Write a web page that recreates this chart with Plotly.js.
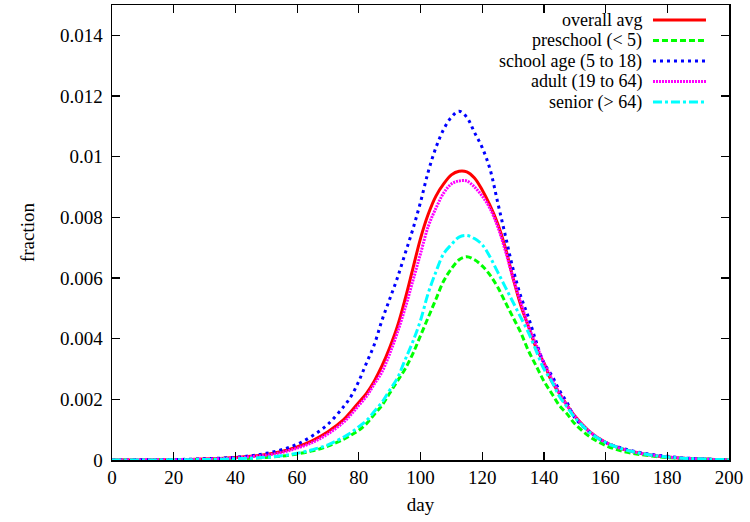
<!DOCTYPE html>
<html>
<head>
<meta charset="utf-8">
<script src="https://cdn.plot.ly/plotly-3.0.1.min.js"></script>
<style>html,body{margin:0;padding:0;background:#fff;}#chart{width:750px;height:522px;}</style>
</head>
<body>
<div id="chart"></div>
<script>
const days = [0,5,10,15,20,25,30,35,40,45,50,55,60,65,70,
  75,77.5,80,82.5,85,87.5,90,92.5,95,97.5,100,102.5,105,107.5,110,112.5,115,117.5,120,122.5,125,127.5,130,132.5,135,137.5,140,142.5,145,147.5,150,
  155,160,165,170,175,180,185,190,195,200];

const overallAvg = [0.000002,0.000003,0.000004,0.000007,0.000011,0.000018,0.00003,0.00005,0.00008,0.00012,0.00018,0.00028,0.00043,0.00064,0.00093,
  0.00132,0.0016,0.0019,0.0022,0.0026,0.0031,0.0037,0.0044,0.0053,0.0063,0.0073,0.0081,0.0087,0.0091,0.0094,0.00952,0.0095,0.0093,0.0089,0.0084,0.0078,0.0070,0.0060,0.0051,0.0044,0.0037,0.0032,0.0026,0.0022,0.0018,0.00145,
  0.00092,0.00058,0.00038,0.00025,0.00016,0.0001,0.00006,0.00004,0.00002,0.00001];

const preschool = [0.000001,0.000002,0.000002,0.000004,0.000006,0.000009,0.000014,0.000022,0.000035,0.000055,0.000085,0.00013,0.0002,0.0003,0.00046,
  0.00068,0.00082,0.00098,0.0012,0.0015,0.0018,0.0022,0.0026,0.0030,0.0035,0.0041,0.0047,0.0053,0.0059,0.0063,0.0066,0.0067,0.0066,0.0064,0.0061,0.0057,0.0052,0.0047,0.0042,0.0036,0.0031,0.0026,0.0022,0.0018,0.00152,0.0012,
  0.00076,0.00048,0.0003,0.0002,0.00013,0.00008,0.00005,0.00003,0.00002,0.00001];

const schoolAge = [0.000003,0.000004,0.000006,0.00001,0.000015,0.000024,0.00004,0.00006,0.00009,0.00014,0.00022,0.00034,0.00052,0.0008,0.00118,
  0.00175,0.0021,0.0026,0.0032,0.0038,0.0046,0.0053,0.0060,0.0068,0.0076,0.0085,0.0095,0.0103,0.0109,0.0113,0.0115,0.0113,0.0108,0.0103,0.0096,0.0085,0.0074,0.0063,0.0054,0.0047,0.0039,0.0032,0.0028,0.0023,0.0019,0.0014,
  0.0009,0.00058,0.0004,0.00027,0.00018,0.00012,0.00007,0.00004,0.00002,0.00001];

const adult = [0.000002,0.000003,0.000004,0.000006,0.00001,0.000016,0.000027,0.000045,0.00007,0.00011,0.00016,0.00025,0.00039,0.00058,0.00086,
  0.00124,0.0015,0.0018,0.0021,0.0025,0.0029,0.0035,0.0042,0.0050,0.0059,0.0068,0.0077,0.0083,0.0088,0.0091,0.0092,0.0092,0.0090,0.0087,0.0083,0.0077,0.0069,0.0060,0.0052,0.0044,0.0038,0.0032,0.0027,0.0022,0.0018,0.00145,
  0.00092,0.00058,0.00038,0.00025,0.00016,0.0001,0.00006,0.00004,0.00002,0.00001];

const senior = [0.000001,0.000002,0.000003,0.000004,0.000006,0.00001,0.000016,0.000026,0.00004,0.00006,0.00009,0.00014,0.00022,0.00034,0.0005,
  0.00075,0.0009,0.0011,0.0013,0.0016,0.0019,0.0023,0.0027,0.0033,0.0039,0.0046,0.0055,0.0062,0.0068,0.0071,0.00735,0.0074,0.0073,0.0071,0.0067,0.0062,0.0057,0.0052,0.0047,0.0042,0.0036,0.0030,0.0026,0.0021,0.00175,0.0014,
  0.0009,0.00058,0.00038,0.00025,0.00016,0.0001,0.00006,0.00004,0.00002,0.00001];

const seriesNames = ['overall avg','preschool (< 5)','school age (5 to 18)','adult (19 to 64)','senior (> 64)'];
const seriesData = [overallAvg, preschool, schoolAge, adult, senior];
const seriesColors = ['#ff0000','#00ff00','#0000ff','#ff00ff','#00ffff'];
const seriesDash = ['solid','6px,3px','3px,4px','2px,1px','9px,3px,3px,3px'];

const FONT = "'Liberation Serif', 'DejaVu Serif', serif";

const traces = seriesData.map((ys, i) => ({
  x: days, y: ys, type: 'scatter', mode: 'lines', name: seriesNames[i],
  line: {color: seriesColors[i], width: 3, dash: seriesDash[i], shape: 'spline', smoothing: 1},
  showlegend: false, hoverinfo: 'skip'
}));

// gnuplot-style key: text right-aligned, line sample on the right
const keyY = [0.9670, 0.9220, 0.8769, 0.8319, 0.7868];
const annotations = seriesNames.map((n, i) => ({
  xref: 'paper', yref: 'paper', x: 0.8606, y: keyY[i], xanchor: 'right', yanchor: 'middle',
  text: n, showarrow: false, borderpad: 0, valign: 'middle',
  font: {family: FONT, size: 18, color: '#000'}
}));
const shapes = seriesNames.map((n, i) => ({
  type: 'line', xref: 'paper', yref: 'paper', x0: 0.8768, x1: 0.9627, y0: keyY[i], y1: keyY[i],
  line: {color: seriesColors[i], width: 3, dash: seriesDash[i]}
}));

const layout = {
  width: 750, height: 522,
  margin: {l: 112, r: 21, t: 5, b: 62},
  paper_bgcolor: '#fff', plot_bgcolor: '#fff',
  font: {family: FONT, size: 19, color: '#000'},
  showlegend: false,
  xaxis: {
    range: [0, 200], tick0: 0, dtick: 20, ticks: 'inside', ticklen: 8, tickwidth: 1.2, tickcolor: '#000',
    showline: true, linecolor: '#000', linewidth: 1.5, mirror: 'ticks', showgrid: false, zeroline: false,
    tickfont: {family: FONT, size: 19, color: '#000'}, ticklabelstandoff: 0,
    title: {text: 'day', font: {family: FONT, size: 19, color: '#000'}, standoff: 10}
  },
  yaxis: {
    range: [0, 0.015], tick0: 0, dtick: 0.002, ticks: 'inside', ticklen: 8, tickwidth: 1.2, tickcolor: '#000',
    showline: true, linecolor: '#000', linewidth: 1.5, mirror: 'ticks', showgrid: false, zeroline: false,
    tickfont: {family: FONT, size: 19, color: '#000'}, ticklabelstandoff: 4,
    title: {text: 'fraction', font: {family: FONT, size: 19, color: '#000'}, standoff: 20}
  },
  annotations: annotations,
  shapes: shapes
};

Plotly.newPlot('chart', traces, layout, {displayModeBar: false, staticPlot: true});
</script>
</body>
</html>
